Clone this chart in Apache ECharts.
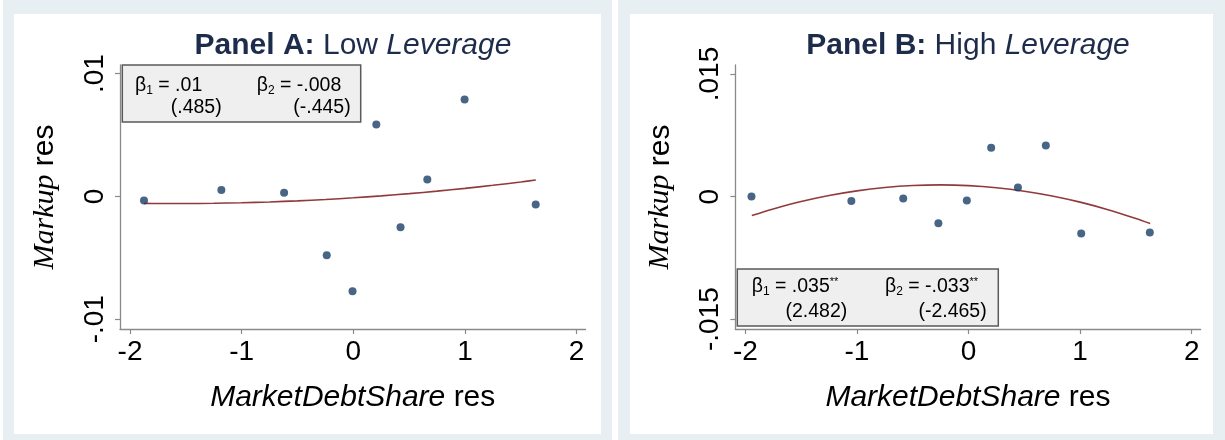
<!DOCTYPE html>
<html><head><meta charset="utf-8">
<script src="https://cdn.jsdelivr.net/npm/echarts@6/dist/echarts.min.js"></script>
<style>html,body{margin:0;padding:0;background:#fff;}#c{width:1225px;height:440px;}</style>
</head><body><div id="c"></div>
<script>
// ---- data ----
const xTicks = [-2, -1, 0, 1, 2];
const yTicksA = [-0.01, 0, 0.01];
const yTickLabelsA = ['-.01', '0', '.01'];
const yTicksB = [-0.015, 0, 0.015];
const yTickLabelsB = ['-.015', '0', '.015'];

const pointsAx = [-1.875, -1.182, -0.62, -0.238, -0.007, 0.206, 0.423, 0.663, 0.997, 1.634];
const pointsAy = [-0.00033, 0.00053, 0.0003, -0.0048, -0.00772, 0.00585, -0.00252, 0.00137, 0.00789, -0.00067];
const fitAx = [-1.875, -1.75, -1.5, -1.25, -1, -0.75, -0.5, -0.25, 0, 0.25, 0.5, 0.75, 1, 1.25, 1.5, 1.635];
const fitAy = [-0.00057, -0.00058, -0.000582, -0.000562, -0.000518, -0.000452, -0.000363, -0.000253, -0.000116,
  0.000042, 0.000223, 0.000427, 0.000653, 0.000902, 0.001173, 0.00133];

const pointsBx = [-1.945, -1.05, -0.585, -0.27, -0.015, 0.203, 0.443, 0.693, 1.01, 1.625];
const pointsBy = [0, -0.00054, -0.00024, -0.00326, -0.00049, 0.00599, 0.0011, 0.00624, -0.00452, -0.00438];
const fitBx = [-1.942, -1.75, -1.5, -1.25, -1, -0.75, -0.5, -0.25, 0, 0.25, 0.5, 0.75, 1, 1.25, 1.5, 1.628];
const fitBy = [-0.00232, -0.001515, -0.00061, 0.000131, 0.000704, 0.001112, 0.001354, 0.00143, 0.00134,
  0.001084, 0.000662, 0.000076, -0.000678, -0.001597, -0.002683, -0.0033];

const titleA = ['Panel A: ', 'Low ', 'Leverage'];
const titleB = ['Panel B: ', 'High ', 'Leverage'];
const coefA = ['.01', '-.008', '(.485)', '(-.445)'];
const coefB = ['.035', '-.033', '(2.482)', '(-2.465)'];
const starsB = '**';

// ---- chart ----
const SANS = 'Liberation Sans, Arial, Helvetica, sans-serif';
const SERIF = 'Liberation Serif, Times New Roman, serif';
const NAVY = '#1e2c4c';
const AXC = '#8a8a8a';

function zip(a, b) { return a.map((v, i) => [v, b[i]]); }
function lab(vals, labels) {
  return v => { let k = 0, d = Infinity; vals.forEach((t, i) => { const e = Math.abs(t - v); if (e < d) { d = e; k = i; } }); return labels[k]; };
}
const richName = {
  i: { fontStyle: 'italic', fontSize: 30, fontFamily: SANS, color: '#000' },
  r: { fontSize: 30, fontFamily: SANS, color: '#000' }
};
const richY = {
  i: { fontStyle: 'italic', fontSize: 30, fontFamily: SERIF, color: '#000' },
  r: { fontSize: 30, fontFamily: SANS, color: '#000' }
};
function makeX(gi) {
  return {
    gridIndex: gi, type: 'value', min: -2.09, max: 2.08,
    axisLine: { show: true, onZero: false, lineStyle: { color: AXC, width: 1.3 } },
    axisTick: { show: true, inside: false, length: 5, customValues: xTicks, lineStyle: { color: AXC, width: 1.2 } },
    axisLabel: { customValues: xTicks, fontSize: 28, color: '#000', margin: 9, fontFamily: SANS, formatter: v => String(v) },
    splitLine: { show: false },
    name: '{i|MarketDebtShare}{r| res}', nameLocation: 'middle', nameGap: 54,
    nameTextStyle: { rich: richName }
  };
}
function makeY(gi, mn, mx, ticks, labels) {
  return {
    gridIndex: gi, type: 'value', min: mn, max: mx,
    axisLine: { show: true, onZero: false, lineStyle: { color: AXC, width: 1.3 } },
    axisTick: { show: true, inside: false, length: 5, customValues: ticks, lineStyle: { color: AXC, width: 1.2 } },
    axisLabel: { customValues: ticks, rotate: 90, fontSize: 28, color: '#000', margin: 11, fontFamily: SANS, formatter: lab(ticks, labels) },
    splitLine: { show: false },
    name: '{i|Markup}{r| res}', nameLocation: 'middle', nameRotate: 90, nameGap: 60,
    nameTextStyle: { rich: richY }
  };
}
function titleText(x, parts) {
  return {
    type: 'text', x: x, y: 46, z: 20,
    style: {
      text: '{b|' + parts[0] + '}{r|' + parts[1] + '}{i|' + parts[2] + '}',
      align: 'center', verticalAlign: 'middle',
      rich: {
        b: { fontWeight: 'bold', fontSize: 30, fontFamily: SANS, fill: NAVY, color: NAVY },
        r: { fontSize: 30, fontFamily: SANS, fill: NAVY, color: NAVY },
        i: { fontStyle: 'italic', fontSize: 30, fontFamily: SANS, fill: NAVY, color: NAVY }
      }
    }
  };
}
const coefRich = {
  m: { fontSize: 19.5, fontFamily: SANS, lineHeight: 22, fill: '#000' },
  s: { fontSize: 12, fontFamily: SANS, lineHeight: 12, verticalAlign: 'bottom', fill: '#000' },
  u: { fontSize: 11, fontFamily: SANS, lineHeight: 11, verticalAlign: 'top', fill: '#000' }
};
function coefText(x, y, idx, val, stars, align) {
  const t = '{m|β}{s|' + idx + '}{m| = ' + val + '}' + (stars ? '{u|' + stars + '}' : '');
  return { type: 'text', x: x, y: y, z: 21, style: { text: t, align: align, verticalAlign: 'middle', rich: coefRich } };
}
function plainText(x, y, val) {
  return { type: 'text', x: x, y: y, z: 21, style: { text: val, align: 'right', verticalAlign: 'middle', fontSize: 19.5, fontFamily: SANS, fill: '#000' } };
}
function rect(x, y, w, h, fill, z, stroke) {
  return { type: 'rect', z: z, shape: { x: x, y: y, width: w, height: h },
    style: stroke ? { fill: fill, stroke: stroke, lineWidth: 1.5 } : { fill: fill } };
}

const chart = echarts.init(document.getElementById('c'), null, { renderer: 'canvas' });
chart.setOption({
  backgroundColor: '#ffffff',
  animation: false,
  grid: [
    { left: 120, top: 65, width: 465.5, height: 264 },
    { left: 735.3, top: 65, width: 465.3, height: 264 }
  ],
  xAxis: [makeX(0), makeX(1)],
  yAxis: [
    makeY(0, -0.0108, 0.0107, yTicksA, yTickLabelsA),
    makeY(1, -0.0162, 0.0161, yTicksB, yTickLabelsB)
  ],
  series: [
    { type: 'line', xAxisIndex: 0, yAxisIndex: 0, data: zip(fitAx, fitAy), smooth: 0.3, showSymbol: false,
      lineStyle: { color: '#913a3e', width: 1.6 }, z: 3 },
    { type: 'scatter', xAxisIndex: 0, yAxisIndex: 0, data: zip(pointsAx, pointsAy), symbolSize: 8,
      itemStyle: { color: '#1c3f68' }, z: 4 },
    { type: 'line', xAxisIndex: 1, yAxisIndex: 1, data: zip(fitBx, fitBy), smooth: 0.3, showSymbol: false,
      lineStyle: { color: '#913a3e', width: 1.6 }, z: 3 },
    { type: 'scatter', xAxisIndex: 1, yAxisIndex: 1, data: zip(pointsBx, pointsBy), symbolSize: 8,
      itemStyle: { color: '#1c3f68' }, z: 4 }
  ],
  graphic: [
    rect(3, 0, 609, 440, '#e8eff2', -20),
    rect(14, 14, 587, 420, '#ffffff', -19),
    rect(618, 0, 607, 440, '#e8eff2', -20),
    rect(630, 14, 583, 420, '#ffffff', -19),
    titleText(353, titleA),
    titleText(968, titleB),
    rect(122.3, 65, 238.4, 57, '#efefef', 15, '#5a5a5a'),
    coefText(135, 86, 1, coefA[0], '', 'left'),
    coefText(256.7, 86, 2, coefA[1], '', 'left'),
    plainText(221.7, 107.5, coefA[2]),
    plainText(350.7, 107.5, coefA[3]),
    rect(737.3, 269, 261, 57, '#efefef', 15, '#5a5a5a'),
    coefText(751.7, 287, 1, coefB[0], starsB, 'left'),
    coefText(885, 287, 2, coefB[1], starsB, 'left'),
    plainText(847.3, 311.7, coefB[2]),
    plainText(986.7, 311.7, coefB[3])
  ]
});
</script>
</body></html>
